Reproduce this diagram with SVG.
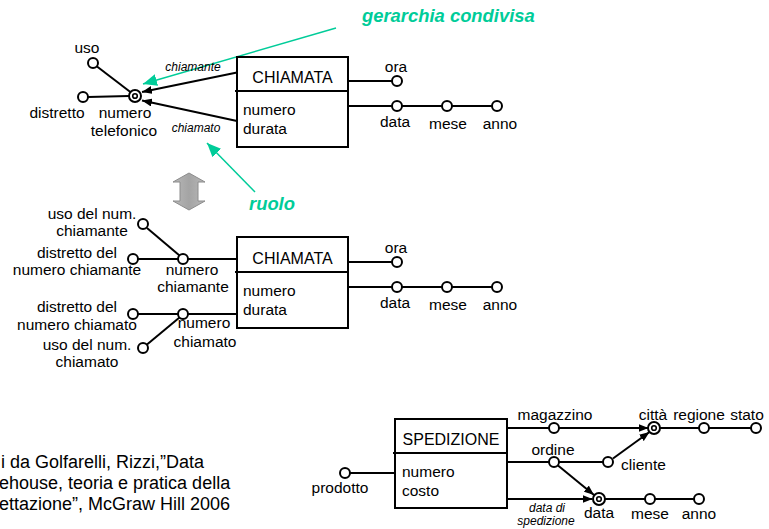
<svg xmlns="http://www.w3.org/2000/svg" width="769" height="529" viewBox="0 0 769 529">
  <style>
    text { font-family: "Liberation Sans", Arial, sans-serif; font-size: 15.5px; fill: #000; }
    .mid { text-anchor: middle; }
    .title { font-size: 16px; text-anchor: middle; }
    .role { font-size: 12px; font-style: italic; text-anchor: middle; }
    .note { font-size: 18px; }
    .green { fill: #00cc99; font-size: 18.4px; font-weight: bold; font-style: italic; }
    .box { fill: #fff; stroke: #000; stroke-width: 2; }
    .ln { stroke: #000; stroke-width: 2; fill: none; }
    .attr { fill: #fff; stroke: #000; stroke-width: 2; }
    .gl { stroke: #00cc99; stroke-width: 1.5; fill: none; }
  </style>
  <defs>
    <marker id="arr" viewBox="0 0 10 8" refX="10" refY="4" markerWidth="10" markerHeight="8" markerUnits="userSpaceOnUse" orient="auto">
      <path d="M0,0 L10,4 L0,8 z" fill="#000"/>
    </marker>
    <marker id="garr" viewBox="0 0 14 12" refX="14" refY="6" markerWidth="14" markerHeight="12" markerUnits="userSpaceOnUse" orient="auto">
      <path d="M0,0 L14,6 L0,12 z" fill="#00cc99"/>
    </marker>
    <linearGradient id="grayfill" x1="0" y1="0" x2="1" y2="0">
      <stop offset="0" stop-color="#b8b8b8"/>
      <stop offset="0.5" stop-color="#a4a4a4"/>
      <stop offset="1" stop-color="#b8b8b8"/>
    </linearGradient>
  </defs>

  <!-- connectors -->
  <g id="connectors">
    <!-- first schema -->
    <line class="ln" x1="97" y1="66.5" x2="131" y2="92.5"/>
    <line class="ln" x1="88" y1="97" x2="129" y2="96"/>
    <line class="ln" x1="237" y1="72.5" x2="142" y2="92" marker-end="url(#arr)"/>
    <line class="ln" x1="237" y1="121" x2="142" y2="100.5" marker-end="url(#arr)"/>
    <line class="ln" x1="348" y1="81" x2="392" y2="81"/>
    <line class="ln" x1="348" y1="106" x2="392" y2="106"/>
    <line class="ln" x1="402" y1="106" x2="442" y2="106"/>
    <line class="ln" x1="452" y1="106" x2="492" y2="106"/>
    <!-- second schema -->
    <line class="ln" x1="147" y1="228" x2="179.5" y2="255.5"/>
    <line class="ln" x1="138" y1="259" x2="178" y2="259"/>
    <line class="ln" x1="188" y1="259" x2="237" y2="259"/>
    <line class="ln" x1="138" y1="314" x2="178" y2="314"/>
    <line class="ln" x1="188" y1="314" x2="237" y2="314"/>
    <line class="ln" x1="147" y1="344.5" x2="179.5" y2="317.5"/>
    <line class="ln" x1="348" y1="262" x2="392" y2="262"/>
    <line class="ln" x1="348" y1="287" x2="392" y2="287"/>
    <line class="ln" x1="402" y1="287" x2="442" y2="287"/>
    <line class="ln" x1="452" y1="287" x2="492" y2="287"/>
    <!-- third schema -->
    <line class="ln" x1="350" y1="473" x2="395" y2="473"/>
    <line class="ln" x1="507" y1="428" x2="549" y2="428"/>
    <line class="ln" x1="559" y1="428" x2="648.5" y2="428" marker-end="url(#arr)"/>
    <line class="ln" x1="660" y1="428" x2="699" y2="428"/>
    <line class="ln" x1="709" y1="428" x2="751" y2="428"/>
    <line class="ln" x1="507" y1="462" x2="549" y2="462"/>
    <line class="ln" x1="559" y1="462" x2="603" y2="462"/>
    <line class="ln" x1="613" y1="458.5" x2="649.5" y2="432" marker-end="url(#arr)"/>
    <line class="ln" x1="558" y1="465.5" x2="594" y2="495" marker-end="url(#arr)"/>
    <line class="ln" x1="507" y1="499" x2="592.5" y2="499" marker-end="url(#arr)"/>
    <line class="ln" x1="604" y1="499" x2="645" y2="499"/>
    <line class="ln" x1="655" y1="499" x2="694" y2="499"/>
    <!-- annotation pointers -->
    <line class="gl" x1="336" y1="28" x2="143" y2="84" marker-end="url(#garr)"/>
    <line class="gl" x1="255" y1="192" x2="207" y2="143" marker-end="url(#garr)"/>
  </g>

  <!-- first schema -->
  <g id="fact-chiamata-1">
    <rect class="box" x="237" y="57" width="111" height="90"/>
    <line class="ln" x1="235" y1="91" x2="348" y2="91"/>
    <text class="title" x="292.5" y="83">CHIAMATA</text>
    <text x="243" y="115">numero</text>
    <text x="243" y="134">durata</text>
  </g>
  <g id="attr-numero-telefonico">
    <circle class="attr" cx="135" cy="96" r="6"/>
    <circle cx="135" cy="96" r="2.3" fill="none" stroke="#000" stroke-width="1.6"/>
    <text class="mid" x="125" y="118">numero</text>
    <text class="mid" x="124" y="136">telefonico</text>
  </g>
  <g id="attr-uso">
    <circle class="attr" cx="93" cy="63" r="5"/>
    <text class="mid" x="87" y="53">uso</text>
  </g>
  <g id="attr-distretto">
    <circle class="attr" cx="83" cy="97" r="5"/>
    <text class="mid" x="57" y="118">distretto</text>
  </g>
  <g id="role-labels-1">
    <text class="role" x="193" y="71">chiamante</text>
    <text class="role" x="196" y="132">chiamato</text>
  </g>
  <g id="attr-ora-1">
    <circle class="attr" cx="397" cy="81" r="5"/>
    <text class="mid" x="396" y="72">ora</text>
  </g>
  <g id="attr-data-1">
    <circle class="attr" cx="397" cy="106" r="5"/>
    <text class="mid" x="395" y="127">data</text>
  </g>
  <g id="attr-mese-1">
    <circle class="attr" cx="447" cy="106" r="5"/>
    <text class="mid" x="448" y="129">mese</text>
  </g>
  <g id="attr-anno-1">
    <circle class="attr" cx="497" cy="106" r="5"/>
    <text class="mid" x="500" y="129">anno</text>
  </g>

  <!-- annotations -->
  <g id="label-gerarchia">
    <text class="green" x="362" y="22">gerarchia condivisa</text>
  </g>
  <g id="label-ruolo">
    <text class="green" x="249" y="210">ruolo</text>
  </g>
  <g id="equivalence-arrow">
    <path d="M189,173 L205,182 L198,182 L198,201 L205,201 L189,210 L173,201 L180,201 L180,182 L173,182 z" fill="url(#grayfill)" stroke="#8c8c8c" stroke-width="1"/>
  </g>

  <!-- second schema -->
  <g id="fact-chiamata-2">
    <rect class="box" x="237" y="237" width="111" height="91"/>
    <line class="ln" x1="235" y1="272" x2="348" y2="272"/>
    <text class="title" x="292.5" y="264">CHIAMATA</text>
    <text x="243" y="296">numero</text>
    <text x="243" y="315">durata</text>
  </g>
  <g id="attr-uso-chiamante">
    <circle class="attr" cx="143" cy="224" r="5"/>
    <text class="mid" x="92" y="219">uso del num.</text>
    <text class="mid" x="92" y="236">chiamante</text>
  </g>
  <g id="attr-distretto-chiamante">
    <circle class="attr" cx="133" cy="259" r="5"/>
    <text class="mid" x="77" y="258">distretto del</text>
    <text class="mid" x="77" y="275">numero chiamante</text>
  </g>
  <g id="attr-numero-chiamante">
    <circle class="attr" cx="183" cy="259" r="5"/>
    <text class="mid" x="192" y="275">numero</text>
    <text class="mid" x="193" y="292">chiamante</text>
  </g>
  <g id="attr-distretto-chiamato">
    <circle class="attr" cx="133" cy="314" r="5"/>
    <text class="mid" x="77" y="312">distretto del</text>
    <text class="mid" x="77" y="330">numero chiamato</text>
  </g>
  <g id="attr-numero-chiamato">
    <circle class="attr" cx="183" cy="314" r="5"/>
    <text class="mid" x="204" y="328">numero</text>
    <text class="mid" x="205" y="347">chiamato</text>
  </g>
  <g id="attr-uso-chiamato">
    <circle class="attr" cx="143" cy="348" r="5"/>
    <text class="mid" x="87" y="350">uso del num.</text>
    <text class="mid" x="87" y="367">chiamato</text>
  </g>
  <g id="attr-ora-2">
    <circle class="attr" cx="397" cy="262" r="5"/>
    <text class="mid" x="396" y="253">ora</text>
  </g>
  <g id="attr-data-2">
    <circle class="attr" cx="397" cy="287" r="5"/>
    <text class="mid" x="395" y="308">data</text>
  </g>
  <g id="attr-mese-2">
    <circle class="attr" cx="447" cy="287" r="5"/>
    <text class="mid" x="448" y="310">mese</text>
  </g>
  <g id="attr-anno-2">
    <circle class="attr" cx="497" cy="287" r="5"/>
    <text class="mid" x="500" y="310">anno</text>
  </g>

  <!-- citation -->
  <g id="citation">
    <text class="note" x="1" y="468">i da Golfarelli, Rizzi,”Data</text>
    <text class="note" x="-1" y="489">ehouse, teoria e pratica della</text>
    <text class="note" x="-1" y="510">ettazione”, McGraw Hill 2006</text>
  </g>

  <!-- third schema -->
  <g id="fact-spedizione">
    <rect class="box" x="395" y="419" width="112" height="89"/>
    <line class="ln" x1="393" y1="453" x2="507" y2="453"/>
    <text class="title" x="451" y="445">SPEDIZIONE</text>
    <text x="402" y="477">numero</text>
    <text x="402" y="496">costo</text>
  </g>
  <g id="attr-prodotto">
    <circle class="attr" cx="345" cy="473" r="5"/>
    <text class="mid" x="340" y="493">prodotto</text>
  </g>
  <g id="attr-magazzino">
    <circle class="attr" cx="554" cy="428" r="5"/>
    <text class="mid" x="555" y="420">magazzino</text>
  </g>
  <g id="attr-citta">
    <circle class="attr" cx="654" cy="428" r="6"/>
    <circle cx="654" cy="428" r="2.3" fill="none" stroke="#000" stroke-width="1.6"/>
    <text class="mid" x="653" y="420">città</text>
  </g>
  <g id="attr-regione">
    <circle class="attr" cx="704" cy="428" r="5"/>
    <text class="mid" x="699" y="420">regione</text>
  </g>
  <g id="attr-stato">
    <circle class="attr" cx="756" cy="428" r="5"/>
    <text class="mid" x="747" y="420">stato</text>
  </g>
  <g id="attr-ordine">
    <circle class="attr" cx="554" cy="462" r="5"/>
    <text class="mid" x="553" y="455">ordine</text>
  </g>
  <g id="attr-cliente">
    <circle class="attr" cx="608" cy="462" r="5"/>
    <text x="621" y="470">cliente</text>
  </g>
  <g id="attr-data-3">
    <circle class="attr" cx="599" cy="499" r="6"/>
    <circle cx="599" cy="499" r="2.3" fill="none" stroke="#000" stroke-width="1.6"/>
    <text class="mid" x="599" y="518">data</text>
  </g>
  <g id="attr-mese-3">
    <circle class="attr" cx="650" cy="499" r="5"/>
    <text class="mid" x="650" y="519">mese</text>
  </g>
  <g id="attr-anno-3">
    <circle class="attr" cx="699" cy="499" r="5"/>
    <text class="mid" x="699" y="519">anno</text>
  </g>
  <g id="role-label-spedizione">
    <text class="role" x="547" y="512">data di</text>
    <text class="role" x="546" y="525">spedizione</text>
  </g>
</svg>
